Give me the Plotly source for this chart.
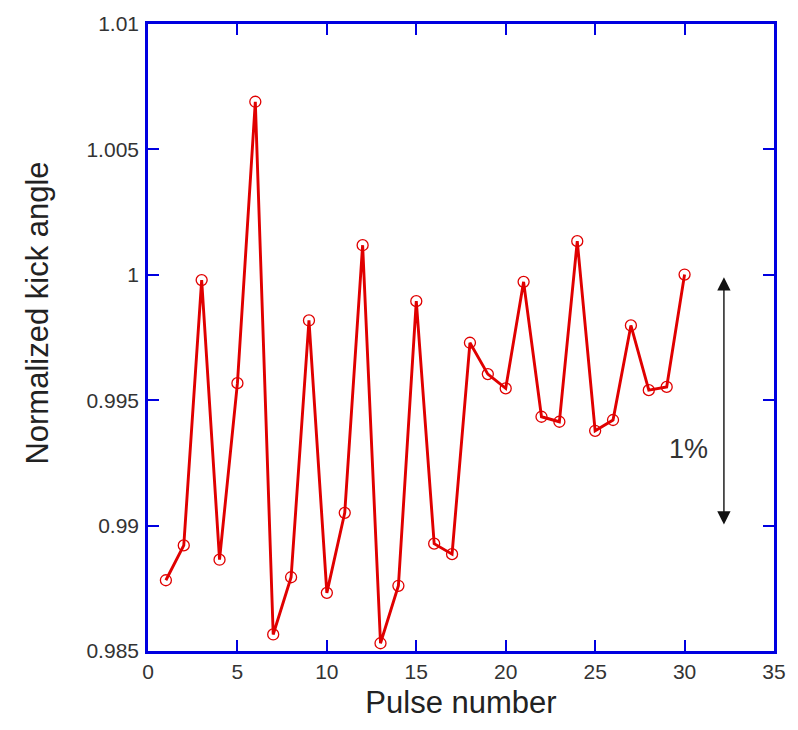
import plotly.graph_objects as go

# Pulse-to-pulse kick angle, normalized to the last pulse
pulse = list(range(1, 31))
kick_angle = [
    0.98782, 0.98921, 0.99979, 0.98864, 0.99568, 1.00690, 0.98566, 0.98794,
    0.99818, 0.98732, 0.99051, 1.00118, 0.98531, 0.98760, 0.99895, 0.98928,
    0.98886, 0.99729, 0.99604, 0.99547, 0.99972, 0.99434, 0.99414, 1.00134,
    0.99378, 0.99421, 0.99798, 0.99540, 0.99553, 1.00001,
]

x_ticks = [0, 5, 10, 15, 20, 25, 30, 35]
y_ticks = [0.985, 0.99, 0.995, 1.0, 1.005, 1.01]
y_tick_text = ["0.985", "0.99", "0.995", "1", "1.005", "1.01"]

# Spread marker: 1% band between 0.99 and 1.00
band_x = 32.2
band_lo, band_hi = 0.99, 1.0

RED = "#e00000"
BLUE = "#0000e0"
FONT = "Liberation Sans, Arial, Helvetica, sans-serif"

fig = go.Figure()
fig.add_trace(go.Scatter(
    x=pulse, y=kick_angle, mode="lines+markers",
    line=dict(color=RED, width=2.9),
    marker=dict(symbol="circle-open", size=11, color=RED, line=dict(width=1.3, color=RED)),
    showlegend=False, hoverinfo="x+y",
))

fig.add_annotation(
    x=band_x, y=band_lo, ax=band_x, ay=band_hi,
    xref="x", yref="y", axref="x", ayref="y",
    text="", showarrow=True, arrowside="end+start",
    arrowhead=2, arrowsize=1.9, arrowwidth=1.4, arrowcolor="#111111",
    standoff=1, startstandoff=1,
)
fig.add_annotation(
    x=30.2, y=0.99307, xref="x", yref="y", text="1%", showarrow=False,
    font=dict(family=FONT, size=27, color="#333333"),
)

# Vertical axis title, placed by hand slightly above the axis centre
fig.add_annotation(
    x=-0.178, y=0.539, xref="paper", yref="paper", text="Normalized kick angle",
    textangle=-90, showarrow=False, xanchor="center", yanchor="middle",
    font=dict(family=FONT, size=31, color="#222222"),
)

axis_common = dict(
    showline=True, linecolor=BLUE, linewidth=2.6, mirror="ticks",
    ticks="inside", ticklen=11, tickwidth=2.4, tickcolor=BLUE,
    showgrid=False, zeroline=False,
    tickfont=dict(family=FONT, size=21, color="#333333"),
)

fig.update_xaxes(
    range=[0, 35], tickvals=x_ticks, ticklabelstandoff=0,
    title=dict(text="Pulse number", font=dict(family=FONT, size=31, color="#222222"), standoff=10),
    **axis_common,
)
fig.update_yaxes(
    range=[0.985, 1.01], tickvals=y_ticks, ticktext=y_tick_text, ticklabelstandoff=2,
    **axis_common,
)

fig.update_layout(
    width=798, height=730,
    margin=dict(l=148, r=20, t=20, b=79),
    paper_bgcolor="white", plot_bgcolor="white",
)

fig.write_html("out.html")
